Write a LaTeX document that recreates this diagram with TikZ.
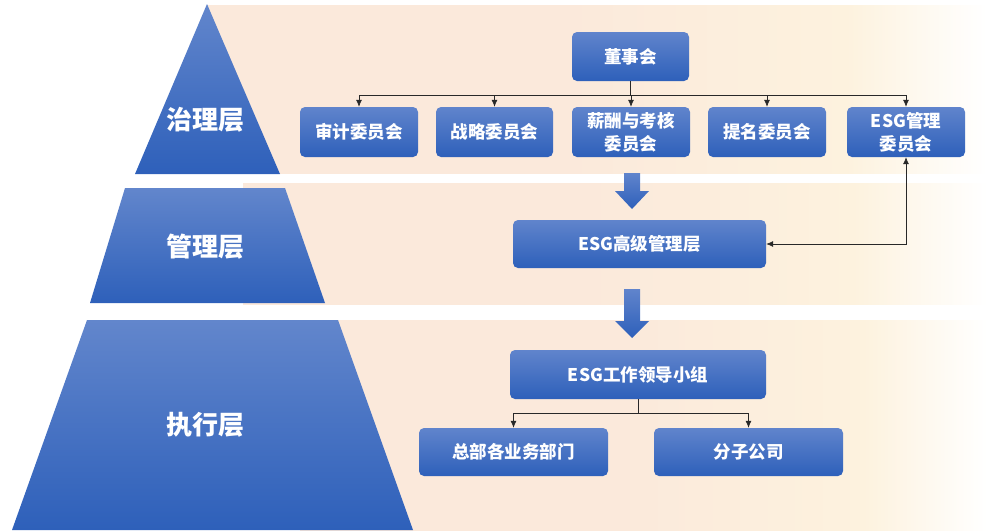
\documentclass[tikz,border=0pt]{standalone}
\usepackage{fontspec}
\setmainfont{Noto Sans CJK SC}
\usetikzlibrary{arrows.meta}
\definecolor{peach}{RGB}{251,233,219}
\definecolor{cream}{RGB}{253,242,222}
\definecolor{boxtop}{RGB}{96,132,204}
\definecolor{boxbot}{RGB}{46,96,186}
\definecolor{pyrtop}{RGB}{98,134,204}
\definecolor{pyrbot}{RGB}{46,96,186}
\definecolor{lnc}{RGB}{40,40,40}
\pgfdeclarehorizontalshading{bandshade}{100bp}{color(0bp)=(peach); color(48bp)=(peach); color(66bp)=(cream); color(75bp)=(white); color(100bp)=(white)}
\tikzset{
  box/.style={rounded corners=5pt, top color=boxtop, bottom color=boxbot, draw=none,
    text=white, font=\fontsize{17.5}{23}\selectfont\bfseries, align=center, inner sep=0pt},
  layer/.style={text=white, font=\fontsize{26}{30}\selectfont\bfseries},
  conn/.style={draw=lnc, line width=0.7pt},
  arr/.style={conn, -{Latex[length=7pt,width=6pt]}},
  blockarrow/.style={top color=boxtop, bottom color=boxbot, draw=none},
}
\begin{document}
\begin{tikzpicture}[x=1pt,y=-1pt]
\useasboundingbox (0,0) rectangle (987,531);
% background bands
\shade[shading=bandshade] (207,5) rectangle (987,173);
\shade[shading=bandshade] (243,183) rectangle (987,304);
\shade[shading=bandshade] (300,320) rectangle (987,530);
% pyramid
\shade[top color=pyrtop, bottom color=pyrbot] (207,4) -- (280,174) -- (135,174) -- cycle;
\shade[top color=pyrtop, bottom color=pyrbot] (125,188) -- (285,188) -- (325,303) -- (90,303) -- cycle;
\shade[top color=pyrtop, bottom color=pyrbot] (87,320) -- (338,320) -- (413,530) -- (12,530) -- cycle;
\node[layer] (l1) at (205,120) {治理层};
\node[layer] (l2) at (205,247) {管理层};
\node[layer] (l3) at (205,425) {执行层};
% boxes
\node[box, minimum width=117pt, minimum height=49pt] (dsh) at (630.5,56.5) {董事会};
\node[box, minimum width=118pt, minimum height=50pt] (sj) at (359,132) {审计委员会};
\node[box, minimum width=117pt, minimum height=50pt] (zl) at (494.5,132) {战略委员会};
\node[box, minimum width=118pt, minimum height=50pt] (xc) at (631,132) {薪酬与考核\\委员会};
\node[box, minimum width=118pt, minimum height=50pt] (tm) at (767,132) {提名委员会};
\node[box, minimum width=118pt, minimum height=50pt] (esgc) at (906,132) {ESG管理\\委员会};
\node[box, minimum width=253pt, minimum height=48pt] (gj) at (639.5,244) {ESG高级管理层};
\node[box, minimum width=256pt, minimum height=49pt] (ld) at (638,374.5) {ESG工作领导小组};
\node[box, minimum width=189pt, minimum height=48pt] (zb) at (513.5,452) {总部各业务部门};
\node[box, minimum width=189pt, minimum height=48pt] (fz) at (748.5,452) {分子公司};
% connectors
\coordinate (bus1) at (0,95);
\foreach \c in {sj,zl,xc,tm,esgc}
  \draw[arr] (dsh.south) -- (dsh.south |- bus1) -| (\c.north);
\draw[conn, {Latex[length=7pt,width=6pt]}-{Latex[length=7pt,width=6pt]}] (esgc.south) |- (gj.east);
\coordinate (bus2) at (0,413);
\foreach \c in {zb,fz}
  \draw[arr] (ld.south) -- (ld.south |- bus2) -| (\c.north);
% block arrows
\shade[blockarrow] (624,173) -- (640,173) -- (640,191) -- (649,191) -- (632,209) -- (615,191) -- (624,191) -- cycle;
\shade[blockarrow] (624,289) -- (640,289) -- (640,321) -- (649,321) -- (632,338) -- (615,321) -- (624,321) -- cycle;
\end{tikzpicture}
\end{document}
